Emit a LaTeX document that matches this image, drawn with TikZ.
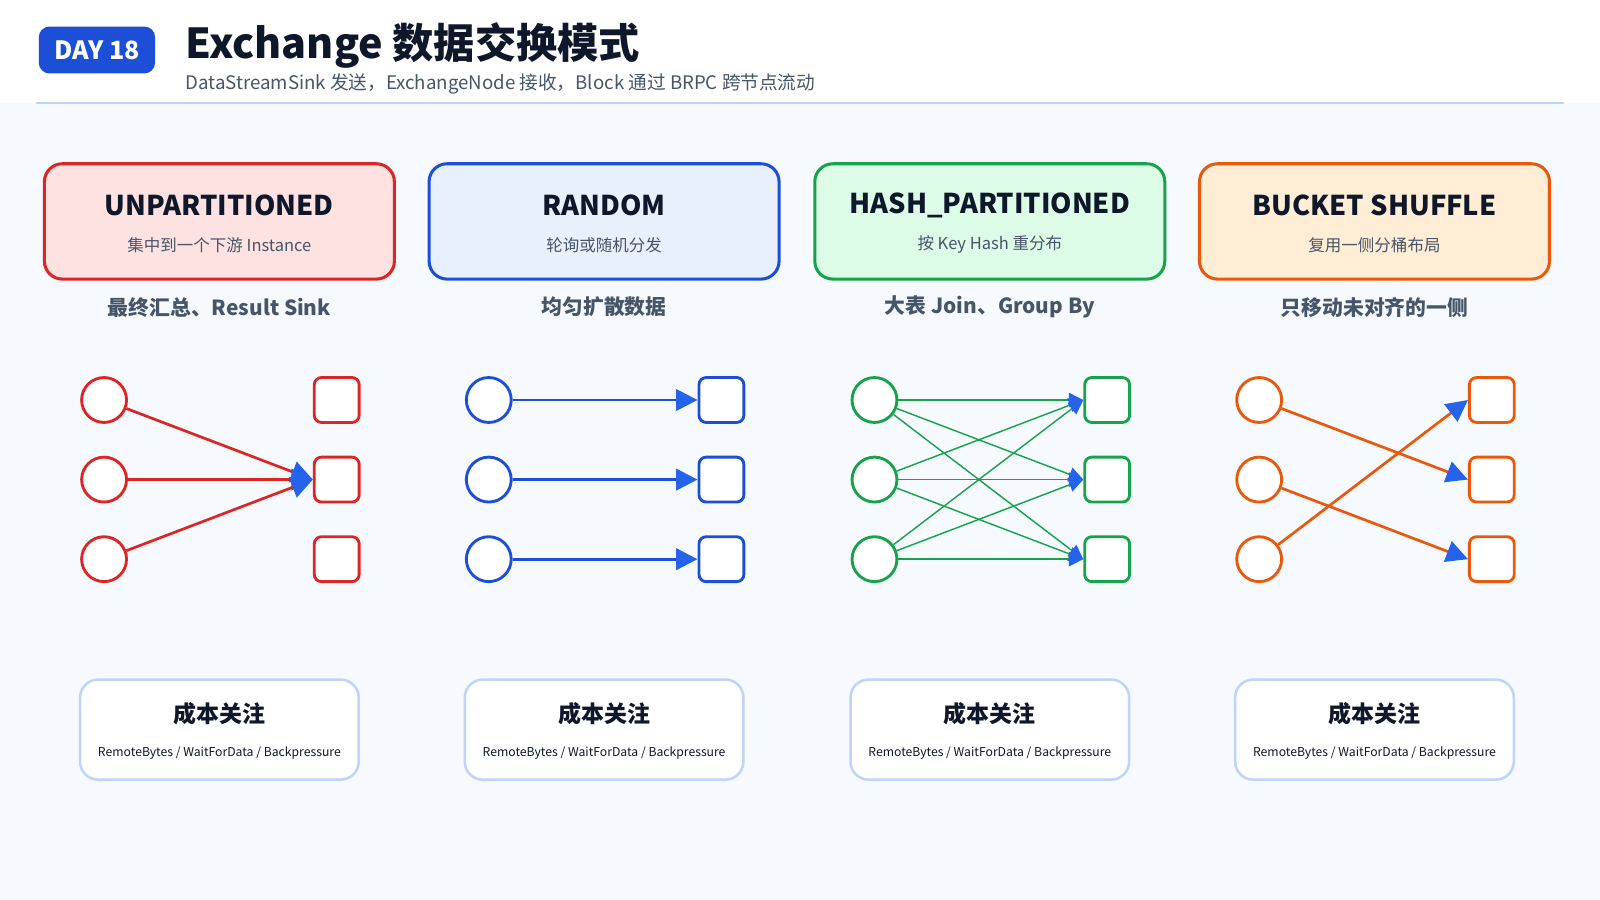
\documentclass[tikz,border=0pt]{standalone}
\usepackage{fontspec}
\setmainfont{Noto Sans CJK SC}
\usetikzlibrary{arrows.meta}
\definecolor{bg}{HTML}{F6F9FD}
\definecolor{ink}{HTML}{0F172A}
\definecolor{sub}{HTML}{475569}
\definecolor{tip}{HTML}{2563EB}
\definecolor{cR}{HTML}{DC2626}\definecolor{fR}{HTML}{FEE2E2}
\definecolor{cB}{HTML}{1D4ED8}\definecolor{fB}{HTML}{E8F0FE}
\definecolor{cG}{HTML}{16A34A}\definecolor{fG}{HTML}{DCFCE7}
\definecolor{cO}{HTML}{EA580C}\definecolor{fO}{HTML}{FFEDD5}
\definecolor{lb}{HTML}{BFD4FB}
\begin{document}
\begin{tikzpicture}[x=0.01cm,y=-0.01cm,
  card/.style={draw=#1,line width=0.85pt,rounded corners=5pt,minimum width=343*0.01cm,minimum height=113*0.01cm},
  cost/.style={draw=lb,fill=white,line width=0.7pt,rounded corners=5pt,minimum width=273*0.01cm,minimum height=98*0.01cm},
  src/.style={circle,draw=#1,fill=white,line width=0.8pt,minimum size=44*0.01cm,inner sep=0},
  dst/.style={rounded corners=2pt,draw=#1,fill=white,line width=0.8pt,minimum size=44*0.01cm,inner sep=0},
  fl/.style={draw=#1,line width=0.75pt,-{Triangle[length=6pt,width=6pt,color=tip]}},
  thin/.style={draw=#1,line width=0.4pt,-{Triangle[length=4pt,width=4pt,color=tip]}}]
\useasboundingbox (0,0) rectangle (1568,882);
\fill[bg] (0,0) rectangle (1568,882);
\fill[white] (0,0) rectangle (1568,101);
\draw[lb,line width=0.4pt] (35,101) -- (1533,101);
\node[fill=cB,rounded corners=3pt,minimum width=114*0.01cm,minimum height=46*0.01cm,text=white,font=\fontsize{7}{8}\selectfont\bfseries] (badge) at (95,49) {DAY 18};
\node[anchor=west,text=ink,font=\fontsize{11.5}{13}\selectfont\bfseries,inner sep=0] (title) at (181,45) {Exchange 数据交换模式};
\node[anchor=west,text=sub,font=\fontsize{5.2}{6}\selectfont,inner sep=0] (subt) at (181,82) {DataStreamSink 发送，ExchangeNode 接收，Block 通过 BRPC 跨节点流动};
\foreach \i/\cx/\c/\f/\t/\s/\l in {1/215/cR/fR/UNPARTITIONED/集中到一个下游 Instance/最终汇总、Result Sink,
  2/592/cB/fB/RANDOM/轮询或随机分发/均匀扩散数据,
  3/970/cG/fG/HASH\_PARTITIONED/按 Key Hash 重分布/大表 Join、Group By,
  4/1347/cO/fO/BUCKET SHUFFLE/复用一侧分桶布局/只移动未对齐的一侧}{
  \node[card=\c,fill=\f] (card\i) at (\cx,217) {};
  \node[text=ink,font=\fontsize{7.6}{9}\selectfont\bfseries] (ct\i) at (\cx,201) {\t};
  \node[text=sub,font=\fontsize{4.6}{5}\selectfont] (cs\i) at (\cx,240) {\s};
  \node[text=sub,font=\fontsize{5.8}{7}\selectfont\bfseries] (lab\i) at (\cx,301) {\l};
  \foreach \r/\y in {1/392,2/470,3/548}{
    \node[src=\c] (s\i\r) at (\cx-113,\y) {};
    \node[dst=\c] (d\i\r) at (\cx+115,\y) {};
  }
  \node[cost] (cost\i) at (\cx,715) {};
  \node[text=ink,font=\fontsize{6.4}{7}\selectfont\bfseries] (cot\i) at (\cx,699) {成本关注};
  \node[text=ink,font=\fontsize{3.4}{4}\selectfont] (coi\i) at (\cx,738) {RemoteBytes / WaitForData / Backpressure};
}
\foreach \r in {1,2,3}{\draw[fl=cR] (s1\r) -- (d12.west);}
\foreach \r in {1,2,3}{\draw[fl=cB] (s2\r) -- (d2\r);}
\foreach \a in {1,2,3}{\foreach \b in {1,2,3}{\draw[thin=cG] (s3\a) -- (d3\b.west);}}
\draw[fl=cO] (s41) -- (d42.west);
\draw[fl=cO] (s42) -- (d43.west);
\draw[fl=cO] (s43) -- (d41.west);
\end{tikzpicture}
\end{document}
